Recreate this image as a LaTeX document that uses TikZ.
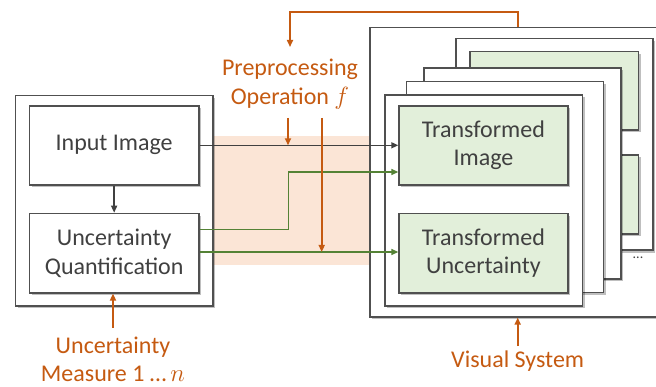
\documentclass[tikz,border=0pt]{standalone}
\usepackage{fontspec}
\setmainfont{Carlito}
\usetikzlibrary{arrows.meta,shadows}
\definecolor{lineg}{HTML}{505050}
\definecolor{txtg}{HTML}{404040}
\definecolor{orng}{HTML}{C55A11}
\definecolor{grn}{HTML}{548235}
\definecolor{grnfill}{HTML}{E2EFDA}
\definecolor{bandfill}{HTML}{FBE5D6}
\begin{document}
\begin{tikzpicture}[x=1pt,y=-1pt,
  shad/.style={drop shadow={shadow xshift=2pt,shadow yshift=-2.5pt,opacity=0.25,fill=black}},
  box/.style={draw=lineg,line width=1.6pt,fill=white,anchor=north west,inner sep=0pt,shad,
    font=\fontsize{24}{28.5}\selectfont,text=txtg,align=center},
  gbox/.style={box,fill=grnfill},
  otext/.style={font=\fontsize{24}{28.5}\selectfont,text=orng,align=center},
  arr/.style={line width=1.4pt,-{Triangle[length=7pt,width=6pt]}},
  darr/.style={arr,draw=txtg},
  garr/.style={arr,draw=grn},
  oarr/.style={arr,draw=orng,line width=1.6pt}]
\useasboundingbox (0,0) rectangle (656,387);
% shaded band
\fill[bandfill] (212,136) rectangle (369.3,265);
% left group
\node[box,minimum width=197.3pt,minimum height=210.3pt] (outerL) at (14.7,94.7) {};
\node[box,minimum width=169.3pt,minimum height=79pt] (inp) at (28.7,105) {Input Image};
\node[box,minimum width=169.3pt,minimum height=79.3pt] (uq) at (28.7,212.7) {Uncertainty\\Quantification};
% visual system
\node[box,minimum width=300pt,minimum height=289.3pt] (vsys) at (369.3,26.7) {};
\node[box,minimum width=196.7pt,minimum height=211.6pt] (card4) at (455.3,37.7) {};
\node[gbox,minimum width=168.4pt,minimum height=78.3pt] (g4a) at (469.3,50.7) {};
\node[gbox,minimum width=168.4pt,minimum height=79pt] (g4b) at (469.3,154) {};
\node[box,minimum width=197pt,minimum height=211pt] (card3) at (423.3,67) {};
\node[box,minimum width=197pt,minimum height=211pt] (card2) at (405.7,80.7) {};
\node[box,minimum width=197.7pt,minimum height=211pt] (card1) at (384,94) {};
\node[gbox,minimum width=168.7pt,minimum height=79pt] (ti) at (398.3,105) {Transformed\\Image};
\node[gbox,minimum width=168.7pt,minimum height=79.3pt] (tu) at (398.3,212.7) {Transformed\\Uncertainty};
\node[text=txtg,font=\fontsize{14}{14}\selectfont] (dots) at (638,258) {...};
% labels
\node[otext] (pre) at (290,84) {Preprocessing\\Operation $f$};
\node[otext] (um) at (113,359.5) {Uncertainty\\Measure 1 …\,$n$};
\node[otext] (vs) at (517.7,361) {Visual System};
% connectors
\draw[darr] (inp) -- (uq);
\draw[darr] (inp.east) -- (inp.east -| ti.west);
\coordinate (gA) at (288.7,229.7);
\coordinate (gB) at (288.7,172);
\draw[garr] (uq.east |- gA) -- (gA) -- (gB) -- (gB -| ti.west);
\draw[garr] (uq.east |- 0,252) -- (tu.west |- 0,252);
\coordinate (o1) at (288,118);
\coordinate (o2) at (321.7,118);
\draw[oarr] (o1) -- (o1 |- inp.east);
\draw[oarr] (o2) -- (o2 |- 0,252);
\coordinate (t1) at (517.7,12);
\coordinate (t2) at (290,12);
\draw[oarr] (t1 |- vsys.north) -- (t1) -- (t2) -- (290,47);
\coordinate (u1) at (113,328);
\draw[oarr] (u1) -- (u1 |- uq.south);
\coordinate (v1) at (517.7,346);
\draw[oarr] (v1) -- (v1 |- vsys.south);
\end{tikzpicture}
\end{document}
